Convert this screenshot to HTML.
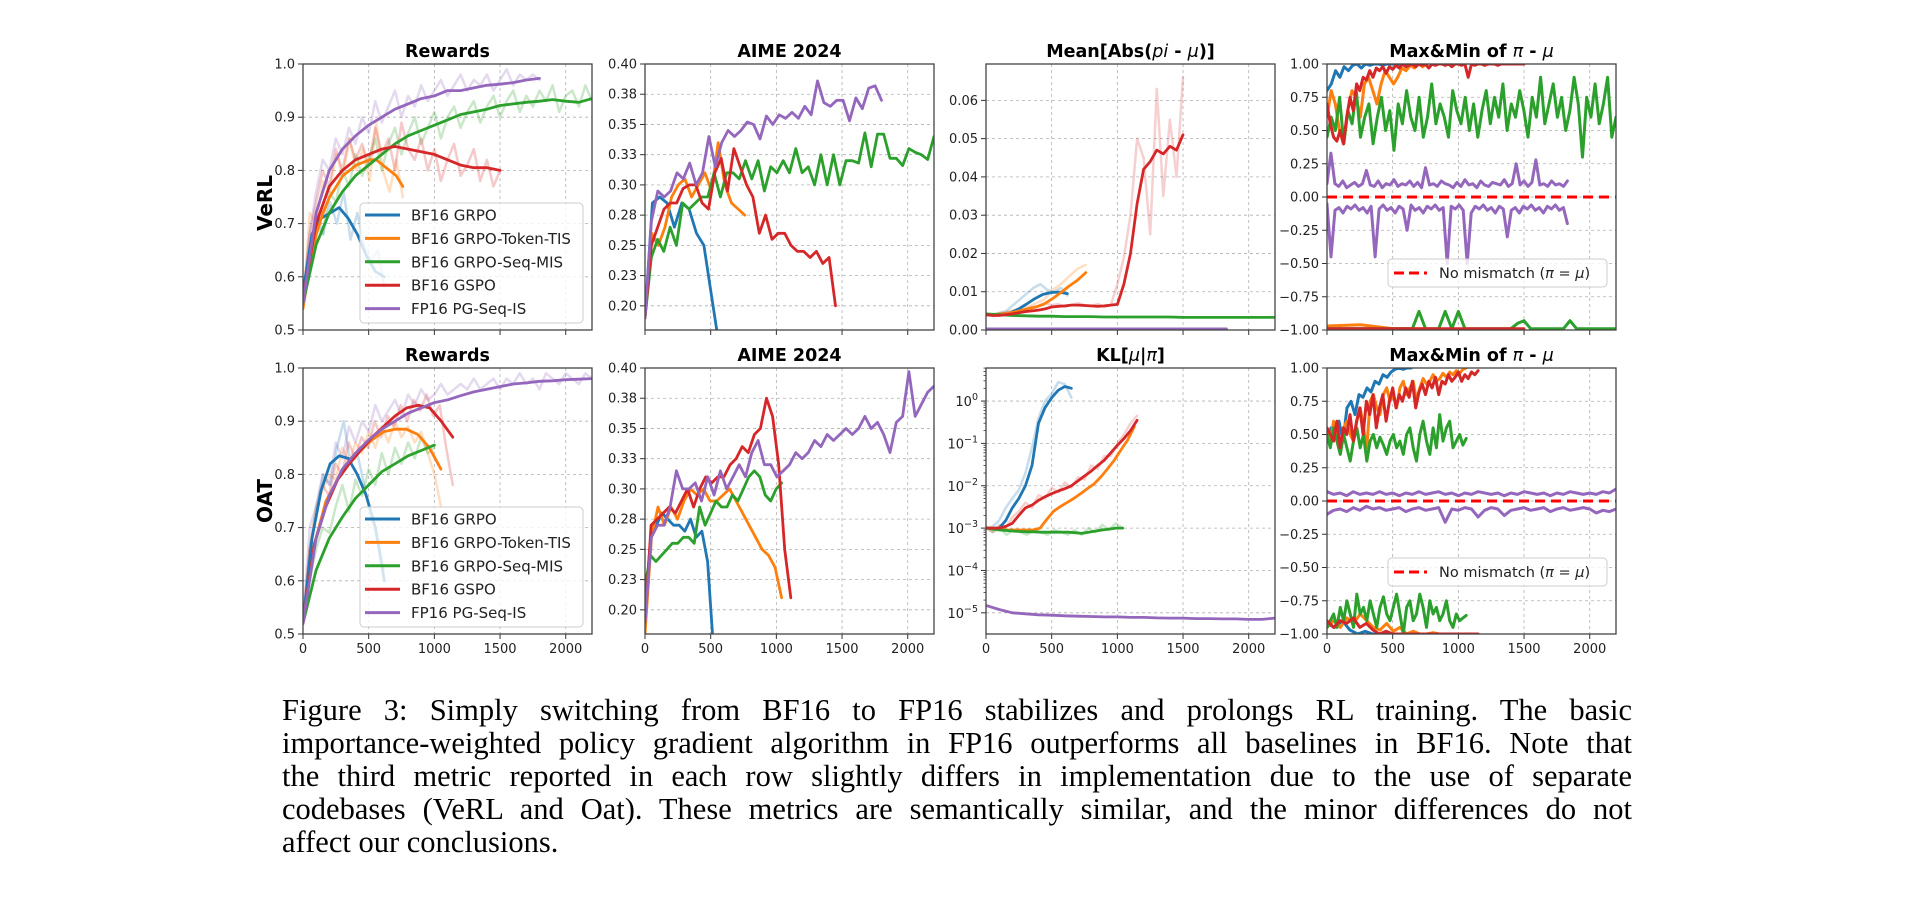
<!DOCTYPE html>
<html><head><meta charset="utf-8">
<style>
html,body{margin:0;padding:0;background:#fff;}
#wrap{position:relative;width:1926px;height:900px;overflow:hidden;background:#fff;}
svg text{font-family:"DejaVu Sans","Liberation Sans",sans-serif;}
.cap{position:absolute;left:282px;width:1350px;font-family:"Liberation Serif","Times New Roman",serif;font-size:30.5px;line-height:33px;color:#000;text-align:justify;text-align-last:justify;white-space:nowrap;}
.cap.last{text-align-last:left;}
</style></head>
<body>
<div id="wrap">
<svg id="fig" width="1926" height="900" xmlns="http://www.w3.org/2000/svg"></svg>
<div class="cap" style="top:694px">Figure 3: Simply switching from BF16 to FP16 stabilizes and prolongs RL training. The basic</div>
<div class="cap" style="top:727px">importance-weighted policy gradient algorithm in FP16 outperforms all baselines in BF16. Note that</div>
<div class="cap" style="top:760px">the third metric reported in each row slightly differs in implementation due to the use of separate</div>
<div class="cap" style="top:793px">codebases (VeRL and Oat). These metrics are semantically similar, and the minor differences do not</div>
<div class="cap last" style="top:826px">affect our conclusions.</div>
</div>
<script>
// ---------- DATA ----------
const xTicks=[0,500,1000,1500,2000];
const seriesNames=["BF16 GRPO","BF16 GRPO-Token-TIS","BF16 GRPO-Seq-MIS","BF16 GSPO","FP16 PG-Seq-IS"];
const rewardTicks=[0.5,0.6,0.7,0.8,0.9,1.0];
const aimeTicks=[0.20,0.225,0.25,0.275,0.30,0.325,0.35,0.375,0.40];
const meanTicks=[0,0.01,0.02,0.03,0.04,0.05,0.06];
const klTickExps=[-5,-4,-3,-2,-1,0];
const mmTicks=[-1,-0.75,-0.5,-0.25,0,0.25,0.5,0.75,1];

const endVeRL=[620,760,2200,1500,1800];
const endOAT=[620,1050,1000,1140,2200];

const rwV_blue=[0.57,0.68,0.71,0.72,0.73,0.71,0.68,0.64,0.61,0.60];
const rwV_orange=[0.54,0.62,0.68,0.72,0.75,0.77,0.79,0.80,0.81,0.815,0.82,0.82,0.81,0.80,0.79,0.77];
const rwV_green=[0.55,0.66,0.72,0.76,0.79,0.81,0.83,0.85,0.865,0.875,0.885,0.895,0.905,0.91,0.915,0.922,0.925,0.928,0.93,0.933,0.93,0.928,0.935];
const rwV_red=[0.56,0.70,0.77,0.80,0.82,0.83,0.84,0.845,0.84,0.835,0.83,0.82,0.81,0.805,0.805,0.80];
const rwV_purple=[0.55,0.72,0.80,0.84,0.865,0.885,0.90,0.915,0.925,0.935,0.94,0.95,0.95,0.955,0.96,0.962,0.965,0.97,0.973];
const rwV_blue_raw=[0.57,0.66,0.72,0.68,0.74,0.70,0.76,0.67,0.72,0.66,0.63,0.65,0.58];
const rwV_orange_raw=[0.54,0.72,0.70,0.78,0.76,0.83,0.79,0.86,0.80,0.84,0.78,0.89,0.80,0.76,0.82,0.75];
const rwV_green_raw=[0.55,0.62,0.70,0.68,0.76,0.74,0.80,0.77,0.83,0.79,0.82,0.86,0.80,0.85,0.88,0.83,0.87,0.90,0.85,0.88,0.91,0.86,0.90,0.92,0.88,0.91,0.93,0.89,0.92,0.94,0.90,0.93,0.95,0.91,0.94,0.92,0.95,0.93,0.96,0.91,0.94,0.95,0.92,0.96,0.93];
const rwV_red_raw=[0.56,0.68,0.74,0.80,0.77,0.84,0.80,0.86,0.82,0.85,0.81,0.88,0.83,0.86,0.80,0.89,0.84,0.82,0.86,0.80,0.84,0.78,0.82,0.85,0.79,0.81,0.84,0.78,0.82,0.77,0.80];
const rwV_purple_raw=[0.55,0.68,0.76,0.82,0.80,0.86,0.83,0.88,0.85,0.90,0.87,0.93,0.89,0.92,0.95,0.90,0.94,0.92,0.96,0.93,0.95,0.97,0.94,0.96,0.98,0.95,0.97,0.96,0.98,0.95,0.97,0.99,0.96,0.98,0.97,0.98,0.97];

const aimeV_blue=[0.19,0.285,0.29,0.285,0.265,0.285,0.28,0.26,0.25,0.21,0.17];
const aimeV_orange=[0.19,0.26,0.25,0.265,0.29,0.30,0.305,0.29,0.30,0.31,0.295,0.335,0.30,0.285,0.28,0.275];
const aimeV_green=[0.19,0.24,0.255,0.245,0.265,0.25,0.285,0.28,0.285,0.29,0.29,0.31,0.29,0.31,0.31,0.305,0.32,0.305,0.32,0.295,0.315,0.31,0.32,0.31,0.33,0.31,0.315,0.30,0.325,0.30,0.325,0.30,0.32,0.32,0.318,0.343,0.315,0.342,0.342,0.322,0.322,0.316,0.33,0.327,0.325,0.321,0.34];
const aimeV_red=[0.19,0.25,0.265,0.28,0.285,0.285,0.297,0.30,0.30,0.285,0.28,0.31,0.322,0.295,0.33,0.315,0.30,0.29,0.26,0.275,0.255,0.26,0.26,0.25,0.245,0.245,0.24,0.245,0.235,0.24,0.20];
const aimeV_purple=[0.19,0.27,0.295,0.29,0.295,0.31,0.305,0.318,0.30,0.31,0.34,0.315,0.335,0.345,0.34,0.345,0.352,0.35,0.338,0.357,0.35,0.358,0.355,0.36,0.355,0.365,0.358,0.386,0.368,0.365,0.37,0.37,0.353,0.372,0.363,0.38,0.382,0.37];
const aimeV_ends=[560,760,2200,1450,1800];

const meanV_blue=[0.004,0.004,0.0042,0.0045,0.0055,0.0068,0.0082,0.0093,0.0098,0.0099,0.0095];
const meanV_orange=[0.004,0.004,0.0042,0.0045,0.005,0.0055,0.006,0.0068,0.0082,0.0098,0.0115,0.013,0.015];
const meanV_green=[0.0042,0.0040,0.0038,0.0037,0.0036,0.0036,0.0035,0.0035,0.0035,0.0034,0.0034,0.0034,0.0034,0.0034,0.0034,0.0033,0.0033,0.0033,0.0033,0.0033,0.0033,0.0033,0.0033];
const meanV_red=[0.004,0.0038,0.0038,0.004,0.0042,0.0045,0.0048,0.005,0.0052,0.0055,0.006,0.0062,0.0063,0.0065,0.0065,0.0064,0.0063,0.0062,0.0063,0.0065,0.0067,0.012,0.02,0.033,0.042,0.044,0.047,0.046,0.048,0.047,0.051];
const meanV_purple=[0.0003,0.0003,0.0003,0.0003];
const meanV_blue_raw=[0.004,0.004,0.0045,0.005,0.0065,0.008,0.0095,0.011,0.012,0.0105,0.01,0.011,0.009];
const meanV_orange_raw=[0.004,0.0042,0.0045,0.005,0.0055,0.006,0.007,0.008,0.0105,0.012,0.014,0.016,0.017];
const meanV_red_raw=[0.004,0.0038,0.0042,0.0045,0.0048,0.005,0.0055,0.006,0.0062,0.007,0.0065,0.0068,0.006,0.0065,0.007,0.0065,0.0062,0.0068,0.006,0.0065,0.012,0.019,0.03,0.05,0.045,0.025,0.063,0.035,0.055,0.04,0.066];
const meanV_ends=[620,760,2200,1500,1830];

const mmV_blue_hi=[0.8,0.85,0.95,0.9,0.98,0.95,0.99,1.0,0.97,1.0,0.99,1.0,1.0,0.99,1.0,1.0,1.0,1.0,1.0,1.0];
const mmV_orange_hi=[0.6,0.8,0.7,0.5,0.4,0.65,0.8,0.75,0.6,0.85,0.9,0.8,0.7,0.85,0.95,0.9,0.85,0.9,0.97,0.95,0.99,0.97,1.0,0.98,1.0];
const mmV_green_hi=[0.45,0.6,0.5,0.75,0.4,0.65,0.55,0.8,0.45,0.6,0.7,0.4,0.6,0.75,0.5,0.65,0.35,0.7,0.55,0.8,0.6,0.5,0.75,0.45,0.6,0.85,0.55,0.7,0.6,0.45,0.8,0.65,0.55,0.75,0.5,0.7,0.45,0.65,0.8,0.55,0.75,0.6,0.85,0.5,0.7,0.6,0.8,0.65,0.45,0.75,0.6,0.9,0.55,0.7,0.85,0.6,0.75,0.5,0.65,0.9,0.7,0.3,0.75,0.6,0.85,0.55,0.7,0.9,0.45,0.6];
const mmV_red_hi=[0.7,0.55,0.45,0.42,0.5,0.4,0.6,0.75,0.65,0.85,0.8,0.9,0.88,0.95,0.9,0.97,0.95,0.98,0.93,0.98,0.96,0.99,0.97,1.0,0.98,0.99,1.0,0.98,1.0,0.99,1.0,0.97,1.0,0.99,1.0,1.0,0.99,1.0,0.98,1.0,1.0,0.99,1.0,0.9,1.0,0.99,1.0,1.0,0.99,1.0,1.0,1.0,0.99,1.0,1.0,1.0,1.0,1.0,1.0,1.0,1.0];
const mmV_purple_hi=[0.1,0.33,0.1,0.08,0.12,0.07,0.09,0.11,0.08,0.1,0.2,0.09,0.08,0.12,0.07,0.1,0.09,0.13,0.08,0.1,0.09,0.12,0.08,0.11,0.07,0.22,0.09,0.1,0.08,0.12,0.1,0.09,0.07,0.11,0.08,0.13,0.09,0.1,0.07,0.12,0.09,0.08,0.11,0.1,0.09,0.13,0.08,0.1,0.25,0.09,0.12,0.08,0.11,0.28,0.09,0.1,0.08,0.12,0.09,0.1,0.08,0.12];
const mmV_purple_lo=[-0.05,-0.45,-0.1,-0.08,-0.12,-0.07,-0.09,-0.06,-0.1,-0.08,-0.12,-0.07,-0.45,-0.09,-0.06,-0.1,-0.08,-0.12,-0.07,-0.09,-0.25,-0.06,-0.1,-0.08,-0.12,-0.07,-0.09,-0.06,-0.1,-0.08,-0.5,-0.07,-0.09,-0.06,-0.1,-0.5,-0.12,-0.07,-0.09,-0.06,-0.1,-0.08,-0.12,-0.07,-0.09,-0.3,-0.1,-0.08,-0.12,-0.07,-0.09,-0.06,-0.1,-0.08,-0.12,-0.07,-0.09,-0.06,-0.1,-0.08,-0.2];
const mmV_green_lo=[-0.99,-0.99,-0.99,-0.99,-0.99,-0.99,-0.99,-0.99,-0.99,-0.99,-0.99,-0.99,-0.99,-0.99,-0.86,-0.99,-0.99,-0.99,-0.86,-0.99,-0.86,-0.99,-0.99,-0.99,-0.99,-0.99,-0.99,-0.99,-0.99,-0.95,-0.93,-0.99,-0.99,-0.99,-0.99,-0.99,-0.99,-0.93,-0.99,-0.99,-0.99,-0.99,-0.99,-0.99,-0.99];
const mmV_red_lo=[-0.99,-0.99,-0.99,-0.99];
const mmV_orange_lo=[-0.97,-0.96,-0.99,-0.99];
const mmV_blue_lo=[-0.99,-0.99,-0.99];
const mmV_ends=[620,760,2200,1500,1830];

const rwO_blue=[0.52,0.68,0.77,0.82,0.835,0.83,0.80,0.76,0.70,0.60];
const rwO_orange=[0.52,0.67,0.75,0.79,0.82,0.845,0.865,0.88,0.885,0.885,0.875,0.85,0.81];
const rwO_green=[0.52,0.62,0.68,0.72,0.755,0.78,0.805,0.82,0.835,0.845,0.855];
const rwO_red=[0.52,0.67,0.74,0.79,0.82,0.845,0.87,0.89,0.91,0.925,0.93,0.925,0.90,0.87];
const rwO_purple=[0.52,0.68,0.76,0.81,0.84,0.865,0.885,0.90,0.915,0.925,0.935,0.94,0.948,0.955,0.96,0.965,0.97,0.972,0.975,0.976,0.978,0.979,0.98];
const rwO_blue_raw=[0.52,0.66,0.74,0.80,0.78,0.85,0.90,0.82,0.84,0.78,0.72,0.68,0.62];
const rwO_orange_raw=[0.52,0.66,0.74,0.77,0.80,0.79,0.85,0.82,0.86,0.84,0.88,0.85,0.89,0.86,0.90,0.87,0.89,0.86,0.88,0.84,0.80,0.74];
const rwO_green_raw=[0.52,0.60,0.66,0.70,0.69,0.74,0.78,0.73,0.79,0.76,0.81,0.78,0.84,0.80,0.85,0.82,0.86,0.83,0.87,0.84,0.85];
const rwO_red_raw=[0.52,0.66,0.72,0.78,0.76,0.82,0.80,0.86,0.83,0.87,0.85,0.90,0.87,0.91,0.89,0.93,0.90,0.94,0.92,0.95,0.91,0.93,0.85,0.78];
const rwO_purple_raw=[0.52,0.70,0.74,0.80,0.78,0.86,0.83,0.89,0.86,0.90,0.88,0.93,0.90,0.92,0.94,0.91,0.95,0.93,0.96,0.94,0.95,0.97,0.95,0.96,0.97,0.96,0.98,0.96,0.97,0.98,0.96,0.98,0.97,0.99,0.97,0.98,0.96,0.99,0.98,0.97,0.99,0.98,0.97,0.99,0.98];

const aimeO_blue=[0.20,0.26,0.27,0.28,0.275,0.27,0.27,0.265,0.275,0.26,0.265,0.24,0.17];
const aimeO_orange=[0.18,0.26,0.285,0.27,0.285,0.275,0.29,0.30,0.295,0.30,0.29,0.29,0.295,0.30,0.29,0.28,0.27,0.26,0.25,0.245,0.235,0.21];
const aimeO_green=[0.22,0.245,0.24,0.245,0.25,0.255,0.255,0.26,0.26,0.255,0.285,0.27,0.28,0.29,0.285,0.285,0.295,0.29,0.30,0.31,0.315,0.31,0.295,0.29,0.30,0.305];
const aimeO_red=[0.19,0.27,0.275,0.28,0.285,0.28,0.29,0.30,0.285,0.30,0.31,0.305,0.31,0.31,0.32,0.325,0.335,0.33,0.345,0.35,0.375,0.36,0.32,0.25,0.21];
const aimeO_purple=[0.19,0.26,0.27,0.27,0.285,0.315,0.30,0.30,0.305,0.29,0.31,0.295,0.315,0.30,0.31,0.32,0.31,0.33,0.34,0.32,0.32,0.31,0.315,0.32,0.33,0.325,0.33,0.34,0.335,0.345,0.34,0.345,0.35,0.345,0.35,0.36,0.35,0.355,0.345,0.33,0.355,0.36,0.397,0.36,0.37,0.38,0.385];
const aimeO_ends=[520,1040,1040,1110,2200];

const klO_blue=[1e-3,1e-3,1e-3,1.5e-3,3e-3,5e-3,1e-2,3e-2,3e-1,7e-1,1.2,1.8,2.2,2.0];
const klO_orange=[1e-3,1e-3,9.5e-4,9e-4,9e-4,9e-4,9e-4,9e-4,1e-3,1.6e-3,2.5e-3,3.2e-3,4e-3,5e-3,6.5e-3,8.5e-3,1.1e-2,1.6e-2,2.5e-2,4e-2,7e-2,1.2e-1,2.5e-1];
const klO_green=[1e-3,9.5e-4,9e-4,8.8e-4,8.5e-4,8.3e-4,8.2e-4,8.2e-4,8e-4,8e-4,8e-4,8e-4,8e-4,7.8e-4,7.5e-4,8e-4,8.5e-4,9e-4,9.5e-4,1e-3,1e-3];
const klO_red=[1e-3,1e-3,1e-3,1.1e-3,1.3e-3,2e-3,3e-3,3.5e-3,4.5e-3,5.5e-3,6.5e-3,7.5e-3,8.5e-3,1e-2,1.3e-2,1.7e-2,2.2e-2,3e-2,4e-2,6e-2,9e-2,1.3e-1,2e-1,3.5e-1];
const klO_purple=[1.5e-5,1.2e-5,1e-5,9.5e-6,9e-6,8.8e-6,8.5e-6,8.3e-6,8.2e-6,8e-6,8e-6,7.8e-6,7.8e-6,7.6e-6,7.5e-6,7.5e-6,7.3e-6,7.3e-6,7.2e-6,7.2e-6,7e-6,7e-6,7.5e-6];
const klO_blue_raw=[1e-3,1.1e-3,1.5e-3,3e-3,5e-3,8e-3,2e-2,8e-2,4e-1,1.0,1.5,2.8,2.5,1.2];
const klO_red_raw=[1e-3,8e-4,1.2e-3,1e-3,1.8e-3,2.5e-3,4e-3,3e-3,6e-3,5e-3,9e-3,7e-3,1.2e-2,9e-3,1.6e-2,1.4e-2,3e-2,2.5e-2,5e-2,5e-2,1e-1,1.6e-1,3e-1,4.5e-1];
const klO_green_raw=[1.1e-3,8e-4,1e-3,7e-4,9e-4,8e-4,7e-4,9e-4,8e-4,7e-4,9e-4,8e-4,7e-4,9e-4,7e-4,1e-3,8e-4,1.2e-3,9e-4,1.3e-3,1e-3];
const klO_ends=[650,1130,1040,1150,2200];

const mmO_blue_hi=[0.45,0.55,0.5,0.6,0.45,0.7,0.75,0.65,0.8,0.78,0.85,0.82,0.9,0.88,0.95,0.93,0.97,0.99,1.0,0.99,1.0,1.0];
const mmO_orange_hi=[0.55,0.45,0.6,0.5,0.4,0.55,0.6,0.5,0.45,0.6,0.7,0.55,0.4,0.75,0.8,0.7,0.65,0.8,0.85,0.75,0.8,0.7,0.85,0.9,0.8,0.85,0.9,0.75,0.85,0.92,0.88,0.9,0.95,0.9,0.92,0.96,0.93,0.97,0.95,0.98,0.96,0.99,1.0];
const mmO_green_hi=[0.5,0.4,0.55,0.45,0.35,0.5,0.4,0.3,0.45,0.55,0.4,0.5,0.3,0.45,0.5,0.4,0.48,0.42,0.35,0.45,0.5,0.4,0.45,0.35,0.5,0.55,0.4,0.3,0.5,0.6,0.45,0.35,0.55,0.4,0.65,0.45,0.55,0.6,0.4,0.45,0.5,0.42,0.47];
const mmO_red_hi=[0.55,0.5,0.45,0.6,0.4,0.55,0.5,0.65,0.45,0.6,0.7,0.5,0.75,0.65,0.8,0.55,0.7,0.8,0.6,0.75,0.85,0.7,0.8,0.75,0.85,0.78,0.9,0.7,0.82,0.88,0.8,0.9,0.85,0.93,0.8,0.9,0.88,0.95,0.9,0.93,0.97,0.9,0.95,0.92,0.97,0.95,0.98];
const mmO_purple_hi=[0.07,0.05,0.06,0.04,0.07,0.05,0.06,0.05,0.07,0.05,0.06,0.04,0.06,0.05,0.07,0.05,0.06,0.07,0.05,0.06,0.04,0.06,0.05,0.07,0.06,0.05,0.06,0.04,0.06,0.05,0.07,0.06,0.05,0.06,0.04,0.06,0.05,0.07,0.06,0.05,0.06,0.05,0.07,0.06,0.09];
const mmO_purple_lo=[-0.1,-0.07,-0.06,-0.08,-0.05,-0.07,-0.04,-0.06,-0.05,-0.07,-0.06,-0.05,-0.08,-0.06,-0.05,-0.07,-0.06,-0.05,-0.16,-0.06,-0.07,-0.05,-0.06,-0.12,-0.07,-0.05,-0.06,-0.11,-0.07,-0.06,-0.05,-0.07,-0.06,-0.05,-0.08,-0.06,-0.05,-0.07,-0.06,-0.05,-0.06,-0.09,-0.07,-0.08,-0.06];
const mmO_green_lo=[-0.95,-0.9,-0.85,-0.95,-0.8,-0.9,-0.75,-0.85,-0.95,-0.7,-0.85,-0.8,-0.9,-0.75,-0.85,-0.95,-0.8,-0.72,-0.85,-0.9,-0.8,-0.7,-0.85,-1.0,-0.8,-0.75,-0.9,-0.85,-0.7,-0.8,-0.95,-0.75,-0.85,-0.8,-0.9,-0.85,-0.75,-0.9,-0.95,-0.85,-0.9,-0.88,-0.86];
const mmO_orange_lo=[-0.95,-0.9,-0.95,-0.88,-0.92,-0.85,-0.9,-0.95,-0.97,-0.92,-0.98,-0.95,-1,-0.98,-1,-1,-0.99,-1,-1,-1,-1,-1];
const mmO_red_lo=[-0.9,-0.95,-0.9,-0.92,-0.88,-0.95,-0.92,-0.97,-1,-0.98,-1,-1,-1,-1,-1,-1,-1,-1,-1,-1,-1,-1,-1,-1];
const mmO_blue_lo=[-0.92,-0.95,-0.9,-0.97,-1,-0.98,-1,-1,-1,-1,-1,-1];
const mmO_ends=[640,1060,1060,1150,2200];

// ---------- RENDER ----------
const NS="http://www.w3.org/2000/svg";
const svg=document.getElementById('fig');
const COLORS=["#1f77b4","#ff7f0e","#2ca02c","#d62728","#9467bd"];
const LEFTS=[303,645,986,1327], TOPS=[64,368], W=289, H=266, XMAX=2200;
function el(tag,attrs,parent){const e=document.createElementNS(NS,tag);for(const k in attrs)e.setAttribute(k,attrs[k]);(parent||svg).appendChild(e);return e;}

function makePanel(col,row,ymin,ymax,log,key){
  const x0=LEFTS[col],y0=TOPS[row];
  const p={x0,y0,log,key};
  p.sx=v=>x0+v/XMAX*W;
  const tr=v=>log?Math.log10(v):v;
  p.sy=v=>y0+H-(tr(v)-tr(ymin))/(tr(ymax)-tr(ymin))*H;
  const g=el('g',{});
  
  
  p.g=g;
  const cp=el('clipPath',{id:'clip-'+key},g);
  el('rect',{x:x0,y:y0,width:W,height:H},cp);
  const gridG=el('g',{},g);
  
  
  p.gridG=gridG;
  p.plot=el('g',{'clip-path':'url(#clip-'+key+')'},g);
  
  
  xTicks.forEach(t=>{
    const x=p.sx(t);
    el('line',{x1:x,x2:x,y1:y0,y2:y0+H,stroke:'#b0b0b0','stroke-width':0.8,'stroke-dasharray':'3,3'},gridG);
    el('line',{x1:x,x2:x,y1:y0+H,y2:y0+H+5,stroke:'#333','stroke-width':1},g);
    if(row===1){const t1=el('text',{x:x,y:y0+H+19,'font-size':13,'text-anchor':'middle',fill:'#222'},g);t1.textContent=String(t);
      
      }
  });
  return p;
}
function yAxis(p,ticks,fmt){
  ticks.forEach(t=>{
    const y=p.sy(t);
    el('line',{x1:p.x0,x2:p.x0+W,y1:y,y2:y,stroke:'#b0b0b0','stroke-width':0.8,'stroke-dasharray':'3,3'},p.gridG);
    el('line',{x1:p.x0-5,x2:p.x0,y1:y,y2:y,stroke:'#333','stroke-width':1},p.g);
    const tx=el('text',{x:p.x0-8,y:y+4.5,'font-size':13,'text-anchor':'end',fill:'#222'},p.g);
    tx.textContent=fmt(t);
    
    
  });
}
function frame(p,title){
  const r=el('rect',{x:p.x0,y:p.y0,width:W,height:H,fill:'none',stroke:'#444','stroke-width':1.3},p.g);
  
  
  const t=el('text',{x:p.x0+W/2,y:p.y0-7,'font-size':17.5,'font-weight':'bold','text-anchor':'middle',fill:'#000'},p.g);
  t.innerHTML=title;
  
  
}
function line(p,ys,xEnd,color,sw,op,name){
  const n=ys.length;let d='';
  ys.forEach((v,i)=>{const x=p.sx(n>1?i*xEnd/(n-1):0),y=p.sy(v);d+=(i?'L':'M')+x.toFixed(1)+','+y.toFixed(1);});
  const e=el('path',{d:d,fill:'none',stroke:color,'stroke-width':sw,'stroke-opacity':op,'stroke-linejoin':'round','stroke-linecap':'round'},p.plot);
  
  
  return e;
}
const f1=v=>v.toFixed(1), f2=v=>v.toFixed(2);
const fm=v=>(v<0?'\u2212':'')+Math.abs(v).toFixed(2);

function rewardsPanel(row,key,raws,smooth,ends){
  const p=makePanel(0,row,0.5,1.0,false,key);
  yAxis(p,rewardTicks,f1);
  raws.forEach((ys,i)=>line(p,ys,ends[i],COLORS[i],2.5,0.25,'raw-'+seriesNames[i].toLowerCase().replace(/ /g,'-')));
  smooth.forEach((ys,i)=>line(p,ys,ends[i],COLORS[i],2.8,1,'smoothed-'+seriesNames[i].toLowerCase().replace(/ /g,'-')));
  frame(p,'Rewards');
  const lg=el('g',{},p.g);
  
  
  const ly=row===0?203:507;
  el('rect',{x:p.x0+57,y:ly,width:223,height:120,rx:4,fill:'#fff','fill-opacity':0.8,stroke:'#ccc','stroke-width':1},lg);
  seriesNames.forEach((n,i)=>{
    const yy=ly+12+i*23.4;
    const ls=el('line',{x1:p.x0+62,x2:p.x0+97,y1:yy,y2:yy,stroke:COLORS[i],'stroke-width':3},lg);
    
    
    const t=el('text',{x:p.x0+108,y:yy+5.5,'font-size':15,fill:'#222'},lg);
    t.textContent=n;
    
    
  });
  return p;
}
function aimePanel(row,key,series,ends){
  const p=makePanel(1,row,0.18,0.40,false,key);
  yAxis(p,aimeTicks,f2);
  series.forEach((ys,i)=>line(p,ys,ends[i],COLORS[i],2.8,1,'aime-'+seriesNames[i].toLowerCase().replace(/ /g,'-')));
  frame(p,'AIME 2024');
}
function mmPanel(row,key,hi,lo,ends){
  const p=makePanel(3,row,-1,1,false,key);
  yAxis(p,mmTicks,fm);
  hi.forEach((ys,i)=>{line(p,ys,ends[i],COLORS[i],3,1,'max-'+seriesNames[i].toLowerCase().replace(/ /g,'-'));
    line(p,lo[i],ends[i],COLORS[i],3,1,'min-'+seriesNames[i].toLowerCase().replace(/ /g,'-'));});
  const z=el('line',{x1:p.x0,x2:p.x0+W,y1:p.sy(0),y2:p.sy(0),stroke:'#ff0000','stroke-width':3,'stroke-dasharray':'10,6'},p.plot);
  
  
  frame(p,'Max&amp;Min of <tspan font-style="italic" font-weight="normal">π</tspan> - <tspan font-style="italic" font-weight="normal">μ</tspan>');
  const ly=row===0?259:558;
  const lg=el('g',{},p.g);
  
  
  el('rect',{x:p.x0+61,y:ly,width:219,height:28,rx:4,fill:'#fff','fill-opacity':0.8,stroke:'#ccc','stroke-width':1},lg);
  el('line',{x1:p.x0+67,x2:p.x0+100,y1:ly+14,y2:ly+14,stroke:'#ff0000','stroke-width':3,'stroke-dasharray':'10,5'},lg);
  const t=el('text',{x:p.x0+112,y:ly+19,'font-size':14.5,fill:'#222'},lg);
  t.innerHTML='No mismatch (<tspan font-style="italic">π</tspan> = <tspan font-style="italic">μ</tspan>)';
  
  
}

rewardsPanel(0,'verl-rewards',[rwV_blue_raw,rwV_orange_raw,rwV_green_raw,rwV_red_raw,rwV_purple_raw],[rwV_blue,rwV_orange,rwV_green,rwV_red,rwV_purple],endVeRL);
aimePanel(0,'verl-aime',[aimeV_blue,aimeV_orange,aimeV_green,aimeV_red,aimeV_purple],aimeV_ends);
(function(){
  const p=makePanel(2,0,0,0.0695,false,'verl-mean-abs');
  yAxis(p,meanTicks,f2);
  line(p,meanV_blue_raw,meanV_ends[0],COLORS[0],2.5,0.25,'raw-bf16-grpo');
  line(p,meanV_orange_raw,meanV_ends[1],COLORS[1],2.5,0.25,'raw-bf16-grpo-token-tis');
  line(p,meanV_red_raw,meanV_ends[3],COLORS[3],2.5,0.22,'raw-bf16-gspo');
  [meanV_blue,meanV_orange,meanV_green,meanV_red,meanV_purple].forEach((ys,i)=>line(p,ys,meanV_ends[i],COLORS[i],2.8,1,'mean-abs-'+seriesNames[i].toLowerCase().replace(/ /g,'-')));
  frame(p,'Mean[Abs(<tspan font-style="italic" font-weight="normal">pi</tspan> - <tspan font-style="italic" font-weight="normal">μ</tspan>)]');
})();
mmPanel(0,'verl-maxmin',[mmV_blue_hi,mmV_orange_hi,mmV_green_hi,mmV_red_hi,mmV_purple_hi],[mmV_blue_lo,mmV_orange_lo,mmV_green_lo,mmV_red_lo,mmV_purple_lo],mmV_ends);

rewardsPanel(1,'oat-rewards',[rwO_blue_raw,rwO_orange_raw,rwO_green_raw,rwO_red_raw,rwO_purple_raw],[rwO_blue,rwO_orange,rwO_green,rwO_red,rwO_purple],endOAT);
aimePanel(1,'oat-aime',[aimeO_blue,aimeO_orange,aimeO_green,aimeO_red,aimeO_purple],aimeO_ends);
(function(){
  const p=makePanel(2,1,Math.pow(10,-5.5),Math.pow(10,0.78),true,'oat-kl');
  klTickExps.forEach(e=>{
    const y=p.sy(Math.pow(10,e));
    el('line',{x1:p.x0,x2:p.x0+W,y1:y,y2:y,stroke:'#b0b0b0','stroke-width':0.8,'stroke-dasharray':'3,3'},p.gridG);
    el('line',{x1:p.x0-5,x2:p.x0,y1:y,y2:y,stroke:'#333','stroke-width':1},p.g);
    for(let m=2;m<10;m++){const ym=p.sy(m*Math.pow(10,e));if(ym>=p.y0)el('line',{x1:p.x0-2.5,x2:p.x0,y1:ym,y2:ym,stroke:'#333','stroke-width':0.8},p.g);}
    const t=el('text',{x:p.x0-8,y:y+5,'font-size':13,'text-anchor':'end',fill:'#222'},p.g);
    t.innerHTML='10<tspan dy="-6" font-size="9.5">'+(e<0?'\u2212'+(-e):e)+'</tspan>';
    
    
  });
  line(p,klO_blue_raw,klO_ends[0],COLORS[0],2.5,0.25,'raw-bf16-grpo');
  line(p,klO_green_raw,klO_ends[2],COLORS[2],2.5,0.25,'raw-bf16-grpo-seq-mis');
  line(p,klO_red_raw,klO_ends[3],COLORS[3],2.5,0.22,'raw-bf16-gspo');
  [klO_blue,klO_orange,klO_green,klO_red,klO_purple].forEach((ys,i)=>line(p,ys,klO_ends[i],COLORS[i],2.8,1,'kl-'+seriesNames[i].toLowerCase().replace(/ /g,'-')));
  frame(p,'KL[<tspan font-style="italic" font-weight="normal">μ</tspan>|<tspan font-style="italic" font-weight="normal">π</tspan>]');
})();
mmPanel(1,'oat-maxmin',[mmO_blue_hi,mmO_orange_hi,mmO_green_hi,mmO_red_hi,mmO_purple_hi],[mmO_blue_lo,mmO_orange_lo,mmO_green_lo,mmO_red_lo,mmO_purple_lo],mmO_ends);

[['VeRL',203],['OAT',501]].forEach(([s,cy])=>{
  const t=el('text',{x:0,y:0,'font-size':20,'font-weight':'bold','text-anchor':'middle',fill:'#000',transform:'translate(272,'+cy+') rotate(-90)'});
  t.textContent=s;
  
  
});
</script>
</body></html>
